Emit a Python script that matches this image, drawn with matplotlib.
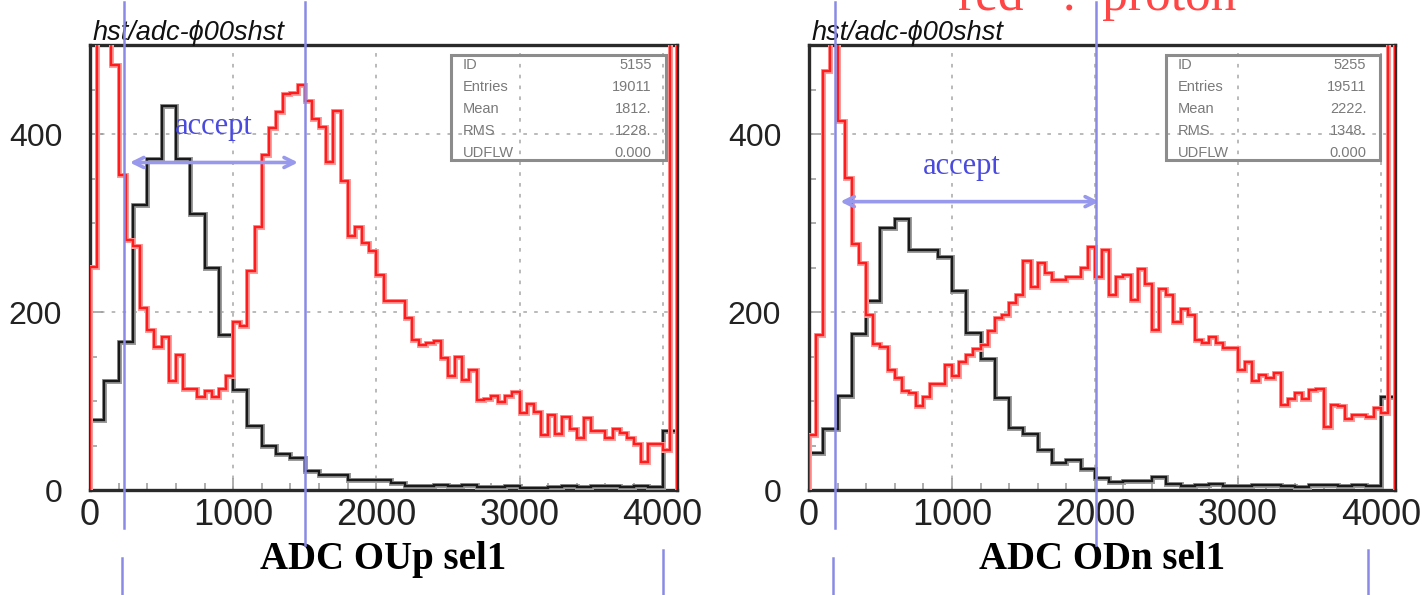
import numpy as np
import matplotlib
matplotlib.use("Agg")
import matplotlib.pyplot as plt
from matplotlib.lines import Line2D
from matplotlib.patches import Rectangle
from matplotlib.transforms import blended_transform_factory

# bin edges in ADC counts (black: 100 wide, red: 50 wide)
black_edges = np.arange(0, 4101, 100)
red_edges = np.arange(0, 4101, 50)

# ADC OUp sel1
oup_black = [79, 122, 166, 320, 372, 431, 372, 310, 249, 174,
             112, 72, 49, 41, 36, 21, 17, 17, 11, 11,
             11, 8, 4, 4, 6, 4, 6, 3, 3, 4,
             2, 2, 3, 4, 3, 4, 4, 3, 4, 3,
             66]
oup_red = [251, 1000, 1000, 477, 354, 281, 274, 204, 180, 161,
           172, 122, 152, 114, 114, 105, 111, 105, 114, 128,
           189, 184, 246, 296, 376, 407, 425, 445, 446, 455,
           437, 417, 408, 369, 426, 347, 285, 296, 277, 268,
           242, 212, 212, 212, 193, 169, 163, 165, 167, 148,
           128, 150, 124, 135, 101, 102, 106, 99, 106, 110,
           86, 97, 88, 62, 84, 63, 82, 69, 58, 81,
           66, 66, 58, 69, 64, 58, 52, 32, 52, 52,
           45, 1000]

# ADC ODn sel1
odn_black = [42, 69, 106, 175, 212, 294, 304, 270, 270, 262,
             224, 176, 147, 103, 70, 63, 45, 30, 34, 24,
             13, 9, 10, 10, 15, 7, 4, 6, 7, 4,
             4, 6, 6, 4, 3, 6, 6, 4, 6, 4,
             105]
odn_red = [62, 174, 471, 1000, 415, 351, 276, 255, 197, 164,
           161, 135, 126, 111, 109, 94, 105, 119, 119, 140,
           128, 144, 152, 158, 163, 179, 193, 197, 210, 219,
           257, 228, 255, 244, 236, 236, 239, 239, 250, 273,
           239, 270, 219, 239, 242, 214, 248, 232, 180, 226,
           219, 189, 203, 197, 169, 165, 172, 165, 159, 159,
           135, 144, 122, 129, 126, 131, 96, 102, 109, 102,
           112, 114, 71, 96, 94, 80, 84, 84, 82, 92,
           86, 1000]

stat_names = ["ID", "Entries", "Mean", "RMS", "UDFLW"]
oup_stats = ["5155", "19011", "1812.", "1228.", "0.000"]
odn_stats = ["5255", "19511", "2222.", "1348.", "0.000"]

# accept window cuts (ADC) and the arrows drawn between them
oup_cuts = [240, 1500]
odn_cuts = [180, 2010]
oup_lower = [225, 4000]
odn_lower = [165, 3910]
oup_arrow = (278, 1453, 368)
odn_arrow = (219, 2030, 324)
oup_accept_xy = (862, 408)
odn_accept_xy = (1070, 364)

W, H = 1422, 595
fig = plt.figure(figsize=(W / 100, H / 100), dpi=100)
ax1 = fig.add_axes([90 / W, (H - 490) / H, 587 / W, 445 / H])
ax2 = fig.add_axes([809 / W, (H - 490) / H, 586 / W, 445 / H])

blue_line = "#8a8ae6"


def draw_panel(ax, black, red, stats, xlabel, cuts, lower, arrow, accept_xy, box_x):
    ax.set_xlim(0, 4100)
    ax.set_ylim(0, 500)

    # histograms with a light halo like the scanned print
    ax.stairs(black, black_edges, baseline=0, color="#9c9c9c", lw=3.6, zorder=3)
    ax.stairs(black, black_edges, baseline=0, color="#1a1a1a", lw=1.7, zorder=4)
    ax.stairs(red, red_edges, baseline=0, color="#ff9c9c", lw=3.6, zorder=5)
    ax.stairs(red, red_edges, baseline=0, color="#ff1c1c", lw=1.7, zorder=6)

    ax.set_xticks([0, 1000, 2000, 3000, 4000])
    ax.set_xticks(np.arange(0, 4101, 200), minor=True)
    ax.set_yticks([0, 200, 400])
    ax.set_yticks(np.arange(0, 501, 50), minor=True)
    ax.grid(True, which="major", color="#b4b4b4", linestyle=(0, (2, 4)), lw=1.3)
    ax.tick_params(which="both", direction="in", color="#a0a0a0", width=1.2)
    ax.tick_params(which="major", length=9)
    ax.tick_params(which="minor", length=5)
    ax.tick_params(axis="x", labelsize=26, pad=6, labelcolor="#222222")
    ax.tick_params(axis="y", labelsize=23, pad=20, labelcolor="#222222")
    for lab in ax.get_xticklabels() + ax.get_yticklabels():
        lab.set_family("Liberation Sans")
    for sp in ax.spines.values():
        sp.set_color("#2a2a2a")
        sp.set_linewidth(2.4)

    ax.set_xlabel(xlabel, family="Liberation Serif", weight="bold", fontsize=28)
    ax.xaxis.set_label_coords(0.5, -0.115)

    ax.text(0.004, 1.012, "hst/adc-\u03d500shst", transform=ax.transAxes,
            family=["Liberation Sans", "DejaVu Sans"], style="italic",
            fontsize=19.5, va="baseline", ha="left", color="#111111")

    # statistics box
    ax.add_patch(Rectangle((box_x, 0.742), 0.366, 0.236, transform=ax.transAxes,
                           fill=False, ec="#8c8c8c", lw=2.2, zorder=7))
    for i, (name, val) in enumerate(zip(stat_names, stats)):
        y = 0.955 - i * 0.0494
        ax.text(box_x + 0.02, y, name, transform=ax.transAxes, fontsize=10.5,
                color="#7a7a7a", va="center", ha="left", family="Liberation Sans", zorder=8)
        ax.text(box_x + 0.342, y, val, transform=ax.transAxes, fontsize=10.5,
                color="#7a7a7a", va="center", ha="right", family="Liberation Sans", zorder=8)

    # accept window
    x0, x1, ya = arrow
    ax.annotate("", xy=(x1, ya), xytext=(x0, ya),
                arrowprops=dict(arrowstyle="<->", color="#9898ec", lw=2.6,
                                mutation_scale=18, shrinkA=0, shrinkB=0), zorder=9)
    ax.text(accept_xy[0], accept_xy[1], "accept", ha="center", va="center",
            family="Liberation Serif", fontsize=22, color="#4a4ade", zorder=9)

    trans = blended_transform_factory(ax.transData, fig.transFigure)
    ends = [528, 545]
    for c, end in zip(cuts, ends):
        fig.add_artist(Line2D([c, c], [1 - 2 / H, 1 - end / H], transform=trans,
                              color=blue_line, lw=1.8, zorder=20))
    starts = [558, 550]
    for c, st in zip(lower, starts):
        fig.add_artist(Line2D([c, c], [1 - st / H, 0], transform=trans,
                              color=blue_line, lw=1.8, zorder=20))


draw_panel(ax1, oup_black, oup_red, oup_stats, "ADC OUp sel1",
           oup_cuts, oup_lower, oup_arrow, oup_accept_xy, 0.615)
draw_panel(ax2, odn_black, odn_red, odn_stats, "ADC ODn sel1",
           odn_cuts, odn_lower, odn_arrow, odn_accept_xy, 0.609)

# header line of the slide, cut by the top edge as in the original scan
fig.text(958 / W, 1 - 10 / H, "red   :  proton", fontsize=37, family="Liberation Serif",
         color="#ff4545", va="baseline", ha="left")

fig.savefig("out.png", dpi=100)
